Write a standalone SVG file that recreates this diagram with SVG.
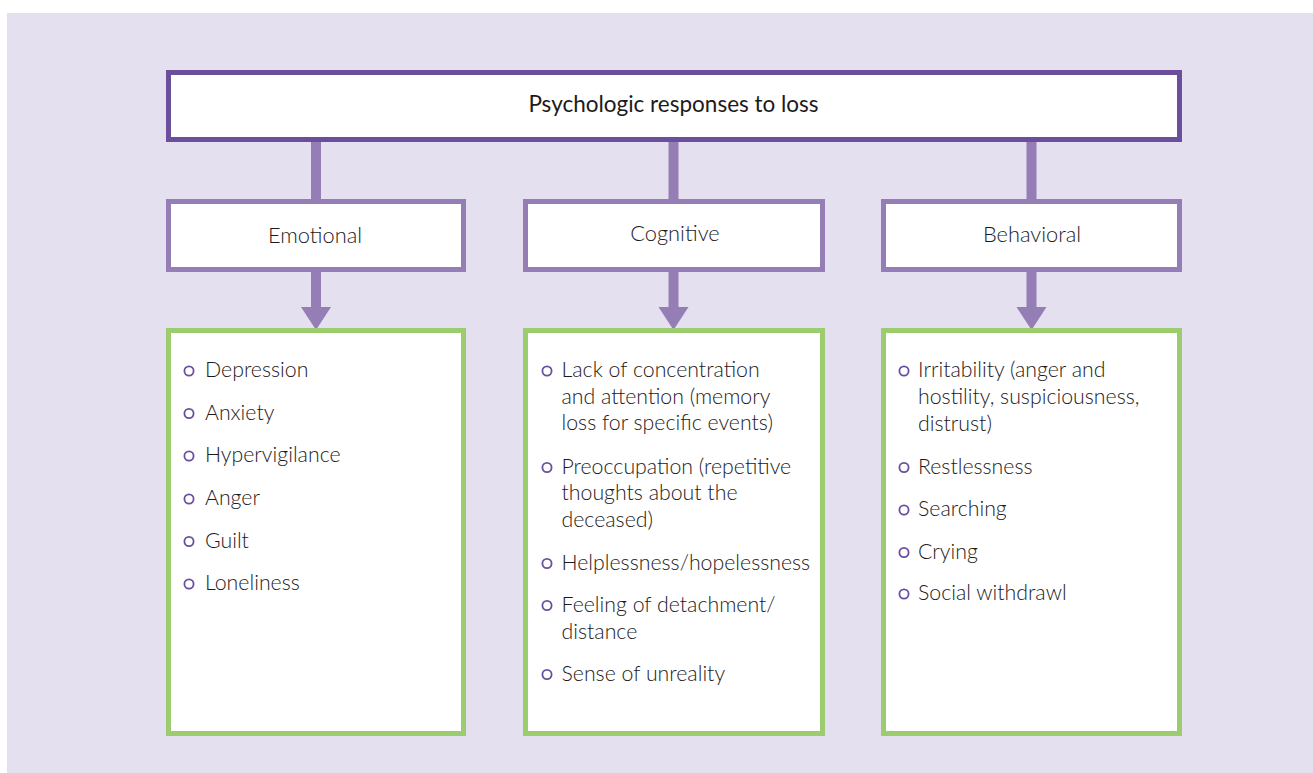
<svg xmlns="http://www.w3.org/2000/svg" width="1313" height="773" viewBox="0 0 1313 773">
  <style>
    .panel { fill: #e4e0ef; }
    .root { fill: #ffffff; stroke: #6b4f9c; stroke-width: 5; }
    .cat { fill: #ffffff; stroke: #957eb6; stroke-width: 5; }
    .list { fill: #ffffff; stroke: #9bcd6e; stroke-width: 5; }
    .bar { fill: #957eb6; }
    .title { font-family: "Lato", "Liberation Sans", sans-serif; font-size: 22.5px; font-weight: 400; fill: #1d1a1b; text-anchor: middle; }
    .head { font-family: "Lato", "Liberation Sans", sans-serif; font-size: 21.8px; font-weight: 300; fill: #1d1a1b; text-anchor: middle; }
    .item { font-family: "Lato", "Liberation Sans", sans-serif; font-size: 21.3px; font-weight: 300; fill: #1d1a1b; }
    .dot { fill: none; stroke: #6b4f9c; stroke-width: 1.8; }
  </style>

  <rect class="panel" x="7" y="13" width="1306" height="760"/>

  <!-- connectors: stems and arrows -->
  <g id="connectors">
    <rect class="bar" x="311" y="140" width="10" height="62"/>
    <rect class="bar" x="668.5" y="140" width="10" height="62"/>
    <rect class="bar" x="1026.5" y="140" width="10" height="62"/>
    <rect class="bar" x="311" y="268" width="10" height="40"/>
    <polygon class="bar" points="301,307 331,307 316,330"/>
    <rect class="bar" x="668.5" y="268" width="10" height="40"/>
    <polygon class="bar" points="658.5,307 688.5,307 673.5,330"/>
    <rect class="bar" x="1026.5" y="268" width="10" height="40"/>
    <polygon class="bar" points="1016.5,307 1046.5,307 1031.5,330"/>
  </g>

  <g id="root">
    <rect class="root" x="168.5" y="72.5" width="1011" height="67"/>
    <text class="title" x="673.5" y="111.5">Psychologic responses to loss</text>
  </g>

  <g id="emotional">
    <rect class="cat" x="168.5" y="201.5" width="295" height="68"/>
    <text class="head" x="315" y="242.5">Emotional</text>
  </g>
  <g id="cognitive">
    <rect class="cat" x="525.5" y="201.5" width="297" height="68"/>
    <text class="head" x="675" y="240.5">Cognitive</text>
  </g>
  <g id="behavioral">
    <rect class="cat" x="883.5" y="201.5" width="296" height="68"/>
    <text class="head" x="1032" y="241.5">Behavioral</text>
  </g>

  <g id="emotional-list">
    <rect class="list" x="168.5" y="330.5" width="295" height="403"/>
    <circle class="dot" cx="189" cy="371" r="4.6"/>
    <text class="item" x="205" y="377">Depression</text>
    <circle class="dot" cx="189" cy="413.5" r="4.6"/>
    <text class="item" x="205" y="419.5">Anxiety</text>
    <circle class="dot" cx="189" cy="456" r="4.6"/>
    <text class="item" x="205" y="462">Hypervigilance</text>
    <circle class="dot" cx="189" cy="499" r="4.6"/>
    <text class="item" x="205" y="505">Anger</text>
    <circle class="dot" cx="189" cy="541.5" r="4.6"/>
    <text class="item" x="205" y="547.5">Guilt</text>
    <circle class="dot" cx="189" cy="584" r="4.6"/>
    <text class="item" x="205" y="590">Loneliness</text>
  </g>

  <g id="cognitive-list">
    <rect class="list" x="525.5" y="330.5" width="297" height="403"/>
    <circle class="dot" cx="547" cy="371" r="4.6"/>
    <text class="item" x="561.5" y="377">Lack of concentration</text>
    <text class="item" x="561.5" y="403.5">and attention (memory</text>
    <text class="item" x="561.5" y="430">loss for specific events)</text>
    <circle class="dot" cx="547" cy="467.5" r="4.6"/>
    <text class="item" x="561.5" y="473.5">Preoccupation (repetitive</text>
    <text class="item" x="561.5" y="500">thoughts about the</text>
    <text class="item" x="561.5" y="527">deceased)</text>
    <circle class="dot" cx="547" cy="563.5" r="4.6"/>
    <text class="item" x="561.5" y="569.5">Helplessness/hopelessness</text>
    <circle class="dot" cx="547" cy="605.5" r="4.6"/>
    <text class="item" x="561.5" y="611.5">Feeling of detachment/</text>
    <text class="item" x="561.5" y="639">distance</text>
    <circle class="dot" cx="547" cy="674.5" r="4.6"/>
    <text class="item" x="561.5" y="680.5">Sense of unreality</text>
  </g>

  <g id="behavioral-list">
    <rect class="list" x="883.5" y="330.5" width="296" height="403"/>
    <circle class="dot" cx="904" cy="371" r="4.6"/>
    <text class="item" x="918" y="377">Irritability (anger and</text>
    <text class="item" x="918" y="403.5">hostility, suspiciousness,</text>
    <text class="item" x="918" y="431">distrust)</text>
    <circle class="dot" cx="904" cy="467.5" r="4.6"/>
    <text class="item" x="918" y="473.5">Restlessness</text>
    <circle class="dot" cx="904" cy="510" r="4.6"/>
    <text class="item" x="918" y="516">Searching</text>
    <circle class="dot" cx="904" cy="552.5" r="4.6"/>
    <text class="item" x="918" y="558.5">Crying</text>
    <circle class="dot" cx="904" cy="594" r="4.6"/>
    <text class="item" x="918" y="600">Social withdrawl</text>
  </g>
</svg>
